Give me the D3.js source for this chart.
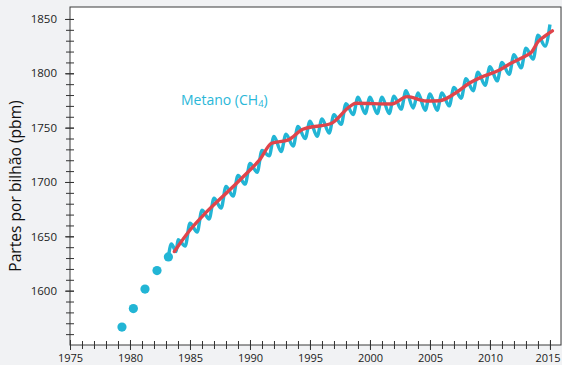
<!DOCTYPE html>
<html><head><meta charset="utf-8">
<script src="https://cdn.jsdelivr.net/npm/d3@7"></script>
<style>
html,body{margin:0;padding:0;background:#f1f2f4;}
svg{display:block;font-family:"Open Sans","Noto Sans",sans-serif;}
</style></head>
<body><svg id="c" width="562" height="365"></svg>
<script>
// Early annual points (dots)
const dotYears = [1979.33, 1980.28, 1981.25, 1982.25, 1983.2];
const dotValues = [1566.5, 1583.5, 1601.5, 1618.5, 1631];

// Seasonal (blue) line: yearly high and low values
const seasonYears = [1984,1985,1986,1987,1988,1989,1990,1991,1992,1993,1994,1995,1996,1997,1998,1999,2000,2001,2002,2003,2004,2005,2006,2007,2008,2009,2010,2011,2012,2013,2014,2015];
const seasonHigh = [1647,1662,1674,1685,1696,1706,1717,1729,1742,1744,1751,1756,1758,1762,1772,1778,1778,1778,1779,1784,1782,1781,1782,1787,1795,1801,1806,1810,1817,1823,1835,1845];
const seasonLow  = [1641,1654,1666,1676,1687,1698,1709,1724,1728,1733,1740,1742,1745,1753,1762,1763,1763,1763,1767,1768,1766,1766,1770,1777,1784,1789,1793,1799,1805,1813,1825,null];

// Trend (red) line
const trendYears = [1983.7,1985,1986.4,1988.3,1990,1990.8,1991.8,1993.2,1994.4,1996.8,1998.3,1998.8,2001.8,2003.1,2004.7,2005.8,2007.1,2008.3,2009.4,2010.8,2011.7,2012.8,2013.5,2014.0,2014.6,2015.2];
const trendValues = [1636,1655.8,1672.7,1692.7,1711,1720.3,1735.6,1738.7,1748.5,1754,1769.3,1772.4,1771.8,1778.5,1774.5,1774.8,1781.6,1791,1797,1803,1809,1815,1820,1829,1834.4,1839];

const yMajor = [1600,1650,1700,1750,1800,1850];
const xMajor = [1975,1980,1985,1990,1995,2000,2005,2010,2015];

const svg = d3.select("#c");
const L=70, R=561, T=7, B=345;
const x = d3.scaleLinear().domain([1975,2015.92]).range([L,R]);
const y = d3.scaleLinear().domain([1550,1861]).range([B,T]);

svg.append("rect").attr("x",L).attr("y",T).attr("width",R-L).attr("height",B-T)
  .attr("fill","#fff").attr("stroke","#3a3a3a").attr("stroke-width",1);

// blue seasonal line points
const bluePts = [[1983.2,1631],[1983.45,1643],[1983.85,1636]];
seasonYears.forEach((yr,i)=>{
  bluePts.push([yr, seasonHigh[i]]);
  if (seasonLow[i]!=null) bluePts.push([yr+0.6, seasonLow[i]]);
});
svg.append("path").datum(bluePts)
  .attr("d", d3.line().x(d=>x(d[0])).y(d=>y(d[1])).curve(d3.curveMonotoneX))
  .attr("fill","none").attr("stroke","#22b5d5").attr("stroke-width",3.4).attr("stroke-linejoin","round");

svg.selectAll("circle.dot").data(dotYears).join("circle")
  .attr("cx",d=>x(d)).attr("cy",(d,i)=>y(dotValues[i])).attr("r",4.6).attr("fill","#22b5d5");

svg.append("path").datum(trendYears.map((t,i)=>[t,trendValues[i]]))
  .attr("d", d3.line().x(d=>x(d[0])).y(d=>y(d[1])).curve(d3.curveMonotoneX))
  .attr("fill","none").attr("stroke","#e0444b").attr("stroke-width",3.4).attr("stroke-linecap","round");

// axes
const yMinor = d3.range(1560,1851,10);
const gy = svg.append("g").attr("transform",`translate(${L},0)`);
gy.call(d3.axisLeft(y).tickValues(yMinor).tickFormat("").tickSizeOuter(0));
gy.select(".domain").remove();
gy.selectAll(".tick line").attr("x1",-4).attr("x2",4).attr("stroke","#333");
const gy2 = svg.append("g").attr("transform",`translate(${L},0)`);
gy2.call(d3.axisLeft(y).tickValues(yMajor).tickFormat(d3.format("d")).tickSizeOuter(0).tickPadding(7));
gy2.select(".domain").remove();
gy2.selectAll(".tick line").attr("x1",-5).attr("x2",4).attr("stroke","#333");
gy2.selectAll("text").attr("font-size",11.5).attr("fill","#222").attr("font-family","Open Sans");

const xMinor = d3.range(1976,2016,1);
const gx = svg.append("g").attr("transform",`translate(0,${B})`);
gx.call(d3.axisBottom(x).tickValues(xMinor).tickFormat("").tickSizeOuter(0));
gx.select(".domain").remove();
gx.selectAll(".tick line").attr("y1",-4).attr("y2",4).attr("stroke","#333");
const gx2 = svg.append("g").attr("transform",`translate(0,${B})`);
gx2.call(d3.axisBottom(x).tickValues(xMajor).tickFormat(d3.format("d")).tickSizeOuter(0).tickPadding(3));
gx2.select(".domain").remove();
gx2.selectAll(".tick line").attr("y1",-5).attr("y2",5).attr("stroke","#333");
gx2.selectAll("text").attr("font-size",11).attr("fill","#222").attr("font-family","Open Sans")
  .attr("dx",d=>d===2015?-2.5:0);

svg.append("text").attr("transform",`translate(21,186) rotate(-90)`)
  .attr("text-anchor","middle").attr("font-size",15.6).attr("fill","#111")
  .text("Partes por bilhão (pbm)");

const lab = svg.append("text").attr("x",181).attr("y",105).attr("font-size",14).attr("fill","#2ab7d8");
lab.append("tspan").text("Metano (CH");
lab.append("tspan").attr("font-size",9.5).attr("dy",1.5).text("4");
lab.append("tspan").attr("dy",-1.5).text(")");
</script></body></html>
